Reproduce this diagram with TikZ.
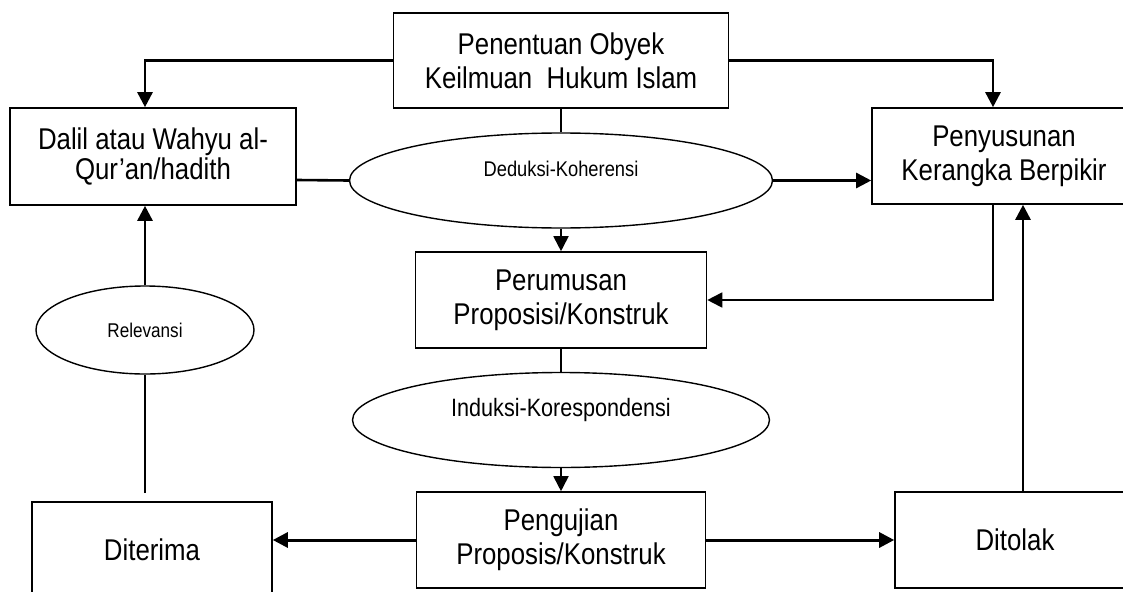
\documentclass[tikz,border=0pt]{standalone}
\usepackage{fontspec}
\setmainfont[FakeStretch=0.86]{Liberation Sans}
\usetikzlibrary{arrows.meta,shapes.geometric,positioning}

\begin{document}
\begin{tikzpicture}[x=1pt,y=-1pt,
	kotak/.style={draw,line width=1.6pt,rectangle,align=center,inner sep=0pt,font=\fontsize{30}{34}\selectfont},
	elips/.style={draw,line width=1.4pt,ellipse,inner sep=0pt},
	panah/.style={line width=2.6pt,-{Triangle[length=15pt,width=15pt]}},
	garis/.style={line width=2.6pt}]
	\useasboundingbox (0,0) rectangle (1123,591);

	\node[kotak,minimum width=335pt,minimum height=95pt] (obyek) at (561,60.5) {Penentuan Obyek\\Keilmuan~ Hukum Islam};
	\node[kotak,minimum width=286pt,minimum height=97pt,font=\fontsize{30}{30}\selectfont] (dalil) at (153,156.5) {Dalil atau Wahyu al-\\Qur’an/hadith};
	\node[kotak,minimum width=264pt,minimum height=96pt] (susun) at (1004,156) {Penyusunan\\Kerangka Berpikir};

	\node[elips,minimum width=423pt,minimum height=95pt,
		label={[font=\fontsize{21.3}{24}\selectfont,yshift=12pt]center:Deduksi-Koherensi}] (deduksi) at (561,180.5) {};

	\node[kotak,minimum width=291pt,minimum height=96pt] (rumus) at (561,300) {Perumusan\\Proposisi/Konstruk};

	\node[elips,minimum width=417pt,minimum height=95pt,
		label={[font=\fontsize{25.1}{28}\selectfont,yshift=10pt]center:Induksi-Korespondensi}] (induksi) at (561,420) {};

	\node[kotak,minimum width=289pt,minimum height=96pt] (uji) at (561,540) {Pengujian\\Proposis/Konstruk};
	\node[kotak,minimum width=240pt,minimum height=96pt] (terima) at (152,550) {Diterima};
	\node[kotak,minimum width=240pt,minimum height=96pt] (tolak) at (1015,540) {Ditolak};

	\node[elips,minimum width=218pt,minimum height=88pt,font=\fontsize{19.9}{23}\selectfont] (relevansi) at (145,330) {Relevansi};
	\coordinate (ujung) at (145,493);

	% alur dari atas
	\draw[panah] (obyek.west) -| ([xshift=-8pt]dalil.north);
	\draw[panah] (obyek.east) -| ([xshift=-11pt]susun.north);
	\draw[garis] (obyek.south) -- (deduksi.north);
	\draw[garis] ([yshift=-23.5pt]dalil.east) -- (deduksi.west);
	\draw[panah] (deduksi.east) -- (deduksi.east -| susun.west);
	\draw[panah,line width=1.8pt] (deduksi.south) -- (rumus.north);
	\draw[panah,line width=1.8pt] ([xshift=-11pt]susun.south) |- (rumus.east);

	% alur ke bawah
	\draw[garis,line width=1.8pt] (rumus.south) -- (induksi.north);
	\draw[panah,line width=1.8pt] (induksi.south) -- (uji.north);
	\draw[panah,line width=3pt] (uji.west) -- (uji.west -| terima.east);
	\draw[panah,line width=3pt] (uji.east) -- (tolak.west);

	% umpan balik
	\draw[panah] ([xshift=8pt]tolak.north) -- ([xshift=19pt]susun.south);
	\draw[garis] (ujung) -- (relevansi.south);
	\draw[panah] (relevansi.north) -- ([xshift=-8pt]dalil.south);
\end{tikzpicture}
\end{document}
